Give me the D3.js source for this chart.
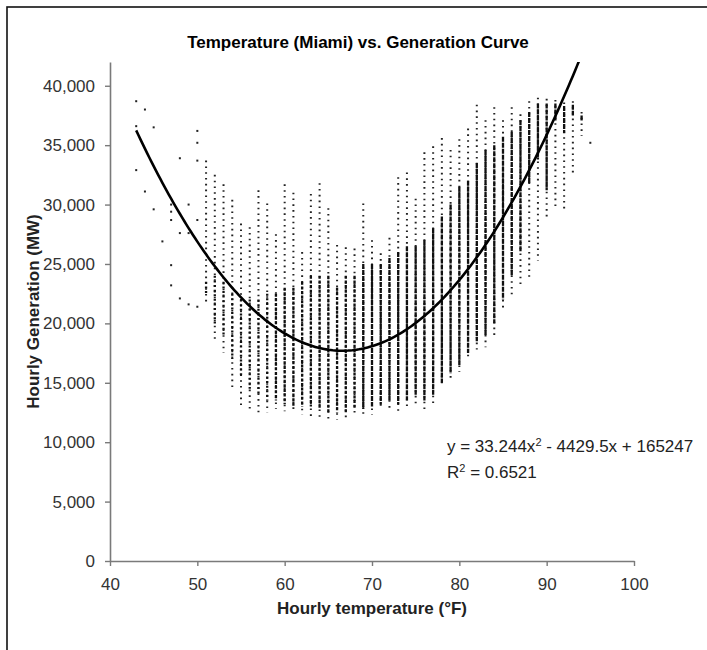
<!DOCTYPE html>
<html>
<head>
<meta charset="utf-8">
<script src="https://cdn.jsdelivr.net/npm/d3@7"></script>
<style>
  body { margin: 0; background: #fff; }
  svg { display: block; font-family: "Liberation Sans", Arial, sans-serif; }
</style>
</head>
<body>
<div id="chart"></div>
<script>
  // Hourly temperature columns (°F) with the spread of generation (MW)
  const temps   = [51, 52, 53, 54, 55, 56, 57, 58, 59, 60, 61, 62, 63, 64, 65, 66, 67, 68, 69, 70, 71, 72, 73,
                   74, 75, 76, 77, 78, 79, 80, 81, 82, 83, 84, 85, 86, 87, 88, 89, 90, 91, 92, 93, 94];
  const colHigh = [33700, 32500, 31700, 30400, 28400, 28100, 31200, 30100, 27500, 31700, 31000, 26000, 30900, 31800,
                   29700, 26600, 26400, 26300, 30100, 27000, 25900, 27200, 32300, 32700, 30500, 34400, 34900, 35600,
                   34600, 35500, 36400, 38400, 37100, 38200, 37100, 38200, 37600, 38700, 39000, 38900, 38800, 38600,
                   38700, 37800];
  const colLow  = [21800, 18600, 17500, 14400, 13100, 12700, 12500, 12500, 12800, 12600, 12500, 12300, 12200, 12000,
                   12000, 11900, 12000, 12300, 12200, 12300, 12800, 12800, 12600, 13000, 13200, 12800, 13300, 14700,
                   15400, 15900, 16900, 17800, 18000, 18900, 21000, 22200, 23000, 23900, 25300, 28700, 29800, 29600,
                   32700, 35800];
  // denser part of each column
  const coreHigh = [23500, 24000, 23500, 22500, 22000, 22000, 22000, 22500, 22500, 23000, 23000, 23500, 24000, 24000,
                    24000, 23000, 24000, 24000, 25000, 25000, 25000, 25500, 26000, 26500, 26500, 27000, 28000, 29000,
                    30000, 31500, 32000, 33500, 34600, 35000, 35700, 36100, 37100, 37800, 38500, 38500, 38500, 38300,
                    38400, 37500];
  const coreLow  = [22500, 20000, 19000, 17000, 15500, 14500, 14000, 13500, 13500, 13200, 13000, 13000, 13000, 12800,
                    12500, 12500, 12500, 12800, 12800, 13000, 13200, 13500, 13200, 13500, 14000, 13500, 14000, 15000,
                    15800, 16500, 17500, 18500, 19000, 20000, 22000, 24000, 26000, 31800, 33800, 31200, 37000, 36000,
                    37500, 37000];

  // Scattered single readings at the cold end (and the hottest hour)
  const outlierT = [43, 43, 43, 44, 44, 45, 45, 46, 47, 47, 47, 47, 47, 48, 48, 48, 49, 49, 49,
                    50, 50, 50, 50, 50, 95];
  const outlierV = [38700, 36600, 32900, 38000, 31100, 36500, 29600, 26900, 30000, 29400, 28700, 24900, 23200,
                    33900, 27600, 22100, 30000, 27600, 21600, 36200, 35200, 33700, 28700, 21400, 35200];

  // Polynomial trendline shown on the chart: y = a x^2 + b x + c
  const trendCoef = [33.244, -4429.5, 165247];
  const trendRange = [43, 94];

  const yTicks = [0, 5000, 10000, 15000, 20000, 25000, 30000, 35000, 40000];
  const xTicks = [40, 50, 60, 70, 80, 90, 100];

  const W = 707, H = 650;
  const margin = { top: 62, right: 73, bottom: 89, left: 110 };
  const width = W - margin.left - margin.right;
  const height = H - margin.top - margin.bottom;

  const svg = d3.select("#chart")
    .append("svg")
    .attr("width", W)
    .attr("height", H);

  // outer frame
  svg.append("rect")
    .attr("x", 7)
    .attr("y", 7)
    .attr("width", 720)
    .attr("height", 680)
    .attr("fill", "none")
    .attr("stroke", "#111")
    .attr("stroke-width", 1.6);

  const g = svg.append("g")
    .attr("transform", `translate(${margin.left},${margin.top})`);

  const x = d3.scaleLinear().domain([40, 100]).range([0, width]);
  const y = d3.scaleLinear().domain([0, 42000]).range([height, 0]);

  g.append("clipPath").attr("id", "plotClip")
    .append("rect").attr("x", 0).attr("y", 0).attr("width", width).attr("height", height);

  const cols = temps.map((t, i) => ({
    t: t, hi: colHigh[i], lo: colLow[i], cHi: coreHigh[i], cLo: coreLow[i]
  }));

  // sparse dotted part of each column
  g.append("g").selectAll("line")
    .data(cols)
    .enter()
    .append("line")
    .attr("x1", d => x(d.t))
    .attr("x2", d => x(d.t))
    .attr("y1", d => y(d.hi))
    .attr("y2", d => y(d.lo))
    .attr("stroke", "#222")
    .attr("stroke-width", 2)
    .attr("stroke-dasharray", "1.6,4.2");

  // dense part of each column: gets more solid towards the warm end
  g.append("g").selectAll("line")
    .data(cols)
    .enter()
    .append("line")
    .attr("x1", d => x(d.t))
    .attr("x2", d => x(d.t))
    .attr("y1", d => y(d.cHi))
    .attr("y2", d => y(d.cLo))
    .attr("stroke", "#111")
    .attr("stroke-width", 2.3)
    .attr("stroke-dasharray", d => d.t <= 58 ? "2,2.6" : d.t <= 68 ? "3,1.6" : "5,1");

  // single points
  g.append("g").selectAll("rect")
    .data(outlierT.map((t, i) => [t, outlierV[i]]))
    .enter()
    .append("rect")
    .attr("x", d => x(d[0]) - 1)
    .attr("y", d => y(d[1]) - 1)
    .attr("width", 2)
    .attr("height", 2)
    .attr("fill", "#222");

  // trendline
  const trendPts = d3.range(trendRange[0], trendRange[1] + 0.001, 0.25)
    .map(t => [t, trendCoef[0] * t * t + trendCoef[1] * t + trendCoef[2]]);
  g.append("path")
    .datum(trendPts)
    .attr("clip-path", "url(#plotClip)")
    .attr("fill", "none")
    .attr("stroke", "#000")
    .attr("stroke-width", 2.6)
    .attr("d", d3.line().x(d => x(d[0])).y(d => y(d[1])));

  // axes
  const yAxis = g.append("g")
    .call(d3.axisLeft(y).tickValues(yTicks).tickSize(5).tickSizeOuter(0).tickPadding(10)
      .tickFormat(d3.format(",")));
  const xAxis = g.append("g")
    .attr("transform", `translate(0,${height})`)
    .call(d3.axisBottom(x).tickValues(xTicks).tickSize(5).tickSizeOuter(0).tickPadding(8));

  [yAxis, xAxis].forEach(a => {
    a.select(".domain").attr("stroke", "#7a7a7a").attr("stroke-width", 1.6);
    a.selectAll(".tick line").attr("stroke", "#7a7a7a").attr("stroke-width", 1.4);
    a.selectAll(".tick text")
      .attr("fill", "#333")
      .style("font-size", "17px")
      .style("font-family", "'Liberation Sans', Arial, sans-serif");
  });
  xAxis.selectAll(".tick text").attr("dy", "0.95em");

  // title
  svg.append("text")
    .attr("x", 358)
    .attr("y", 48)
    .attr("text-anchor", "middle")
    .style("font-size", "17px")
    .style("font-weight", "bold")
    .text("Temperature (Miami) vs. Generation Curve");

  // axis titles
  svg.append("text")
    .attr("x", margin.left + width / 2)
    .attr("y", 614)
    .attr("text-anchor", "middle")
    .style("font-size", "17px")
    .style("font-weight", "bold")
    .attr("fill", "#222")
    .text("Hourly temperature (°F)");

  svg.append("text")
    .attr("transform", `translate(39,${margin.top + height / 2}) rotate(-90)`)
    .attr("text-anchor", "middle")
    .style("font-size", "17px")
    .style("font-weight", "bold")
    .attr("fill", "#222")
    .text("Hourly Generation (MW)");

  // trendline equation
  const eq = svg.append("text")
    .attr("x", 447)
    .attr("y", 452)
    .attr("fill", "#222")
    .style("font-size", "17px");
  eq.append("tspan").text("y = " + trendCoef[0] + "x");
  eq.append("tspan").attr("dy", -6).style("font-size", "11px").text("2");
  eq.append("tspan").attr("dy", 6).text(" - " + Math.abs(trendCoef[1]) + "x + " + trendCoef[2]);

  const r2 = svg.append("text")
    .attr("x", 447)
    .attr("y", 478)
    .attr("fill", "#222")
    .style("font-size", "17px");
  r2.append("tspan").text("R");
  r2.append("tspan").attr("dy", -6).style("font-size", "11px").text("2");
  r2.append("tspan").attr("dy", 6).text(" = 0.6521");
</script>
</body>
</html>
